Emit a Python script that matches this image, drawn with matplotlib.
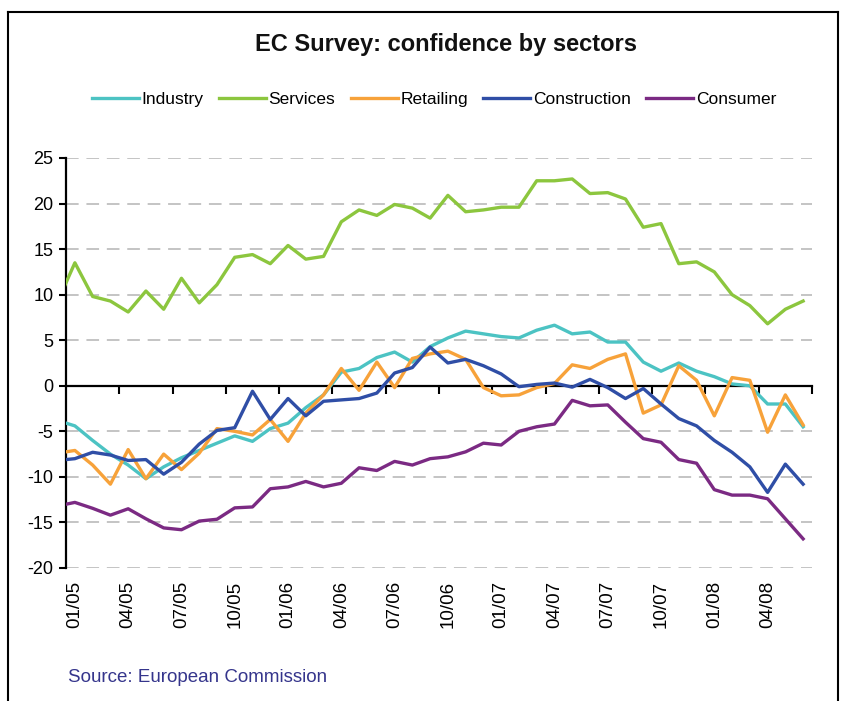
import numpy as np
import matplotlib
matplotlib.use("Agg")
import matplotlib.pyplot as plt
from matplotlib import font_manager
from matplotlib.lines import Line2D

# ---------------- data ----------------
months = ['12/04',
          '01/05', '02/05', '03/05', '04/05', '05/05', '06/05', '07/05', '08/05', '09/05', '10/05', '11/05', '12/05',
          '01/06', '02/06', '03/06', '04/06', '05/06', '06/06', '07/06', '08/06', '09/06', '10/06', '11/06', '12/06',
          '01/07', '02/07', '03/07', '04/07', '05/07', '06/07', '07/07', '08/07', '09/07', '10/07', '11/07', '12/07',
          '01/08', '02/08', '03/08', '04/08', '05/08', '06/08']

industry = [-3.8,
            -4.4, -6.0, -7.5, -8.7, -10.2, -8.9, -7.9, -7.1, -6.3, -5.5, -6.1, -4.7,
            -4.1, -2.4, -1.0, 1.5, 1.9, 3.1, 3.7, 2.6, 4.3, 5.25, 6.0, 5.7,
            5.4, 5.25, 6.1, 6.65, 5.7, 5.9, 4.8, 4.8, 2.6, 1.6, 2.5, 1.6,
            1.0, 0.2, 0.0, -2.0, -2.0, -4.5]

services = [9.1,
            13.5, 9.8, 9.3, 8.1, 10.4, 8.4, 11.8, 9.1, 11.1, 14.1, 14.4, 13.4,
            15.4, 13.9, 14.2, 18.0, 19.3, 18.7, 19.9, 19.5, 18.4, 20.9, 19.1, 19.3,
            19.6, 19.6, 22.5, 22.5, 22.7, 21.1, 21.2, 20.5, 17.4, 17.8, 13.4, 13.6,
            12.5, 10.0, 8.8, 6.8, 8.4, 9.3]

retailing = [-7.4,
             -7.1, -8.7, -10.8, -7.0, -10.2, -7.5, -9.2, -7.4, -4.7, -5.0, -5.4, -3.7,
             -6.1, -3.0, -1.0, 1.9, -0.5, 2.6, -0.2, 3.0, 3.5, 3.8, 2.9, -0.2,
             -1.1, -1.0, -0.2, 0.25, 2.3, 1.9, 2.9, 3.5, -3.0, -2.1, 2.2, 0.6,
             -3.3, 0.9, 0.6, -5.1, -1.0, -4.3]

construction = [-8.2,
                -8.0, -7.3, -7.6, -8.2, -8.1, -9.7, -8.4, -6.4, -4.9, -4.6, -0.6, -3.7,
                -1.4, -3.3, -1.7, -1.55, -1.4, -0.8, 1.4, 2.0, 4.25, 2.5, 2.9, 2.2,
                1.3, -0.1, 0.15, 0.3, -0.15, 0.7, -0.2, -1.4, -0.3, -2.0, -3.6, -4.4,
                -6.0, -7.3, -8.9, -11.7, -8.6, -10.8]

consumer = [-13.2,
            -12.8, -13.45, -14.2, -13.5, -14.6, -15.6, -15.8, -14.85, -14.65, -13.4, -13.3, -11.3,
            -11.1, -10.5, -11.1, -10.7, -9.0, -9.3, -8.3, -8.7, -8.0, -7.8, -7.25, -6.3,
            -6.5, -5.0, -4.5, -4.2, -1.6, -2.2, -2.1, -4.0, -5.8, -6.2, -8.1, -8.5,
            -11.4, -12.0, -12.0, -12.4, -14.6, -16.8]

series_names = ['Industry', 'Services', 'Retailing', 'Construction', 'Consumer']
series_colors = ['#4cc3c3', '#8cc63e', '#f7a23a', '#2f4ea6', '#7b2a83']

y_ticks = [-20, -15, -10, -5, 0, 5, 10, 15, 20, 25]

# ---------------- fonts ----------------
available = {f.name for f in font_manager.fontManager.ttflist}
narrow = 'Liberation Sans Narrow' if 'Liberation Sans Narrow' in available else 'Liberation Sans'
plt.rcParams['font.family'] = [narrow, 'DejaVu Sans']
plt.rcParams['axes.unicode_minus'] = False

W, H = 846, 701
fig = plt.figure(figsize=(W / 100, H / 100), dpi=100)
fig.patch.set_facecolor('white')

left, right, top, bottom = 66, 812, 158, 568
ax = fig.add_axes([left / W, (H - bottom) / H, (right - left) / W, (bottom - top) / H])

x = np.arange(len(months))
data = [industry, services, retailing, construction, consumer]
handles = []
for name, vals, col in zip(series_names, data, series_colors):
    ln, = ax.plot(x, vals, color=col, lw=2.4, solid_joinstyle='round', label=name, zorder=3)
    handles.append(ln)

ax.set_xlim(0.5, len(months) - 0.5)
ax.set_ylim(-20, 25)

# grid
ax.set_yticks(y_ticks)
ax.yaxis.grid(True, color='#c4c4c4', linestyle=(0, (6.5, 4)), linewidth=1.4)
ax.set_axisbelow(True)

# spines
for s in ['top', 'right']:
    ax.spines[s].set_visible(False)
ax.spines['left'].set_linewidth(1.6)
ax.spines['bottom'].set_position(('data', 0))
ax.spines['bottom'].set_linewidth(1.6)
ax.spines['bottom'].set_zorder(2.5)

ax.tick_params(axis='y', direction='out', length=5, width=1.5, labelsize=13, pad=4)

# x ticks on the zero line between quarters
tick_pos = np.arange(3.5, len(months), 3)
ax.set_xticks(tick_pos)
ax.set_xticklabels([''] * len(tick_pos))
ax.tick_params(axis='x', direction='out', length=6, width=1.5)

# labels at the bottom
lab_idx = list(range(1, len(months), 3))
sec = ax.secondary_xaxis('bottom')
sec.set_xticks([x[i] for i in lab_idx])
sec.set_xticklabels([months[i] for i in lab_idx], rotation=90, fontsize=13.5,
                    family=['Liberation Sans', 'DejaVu Sans'])
sec.tick_params(axis='x', length=0, pad=9)
sec.spines['bottom'].set_visible(False)

# title
fig.text(446 / W, 1 - 45 / H, 'EC Survey: confidence by sectors', ha='center', va='center',
         fontsize=17, fontweight='bold', color='#111111')

# legend
fig.legend(handles=handles, labels=series_names, loc='center', bbox_to_anchor=(434 / W, 1 - 99 / H),
           ncol=5, frameon=False, fontsize=12.5, handlelength=2.7, handletextpad=0.15,
           columnspacing=0.9)

# source
fig.text(68 / W, 1 - 678 / H, 'Source: European Commission', ha='left', va='center',
         fontsize=13.5, color='#35358c')

# border frame
bx0, bx1, by0 = 8 / W, 838 / W, 1 - 12 / H
for xs, ys in [((bx0, bx0), (0, by0)), ((bx0, bx1), (by0, by0)), ((bx1, bx1), (by0, 0))]:
    fig.add_artist(Line2D(xs, ys, transform=fig.transFigure, color='black', lw=1.5))

fig.savefig('out.png', dpi=100)
